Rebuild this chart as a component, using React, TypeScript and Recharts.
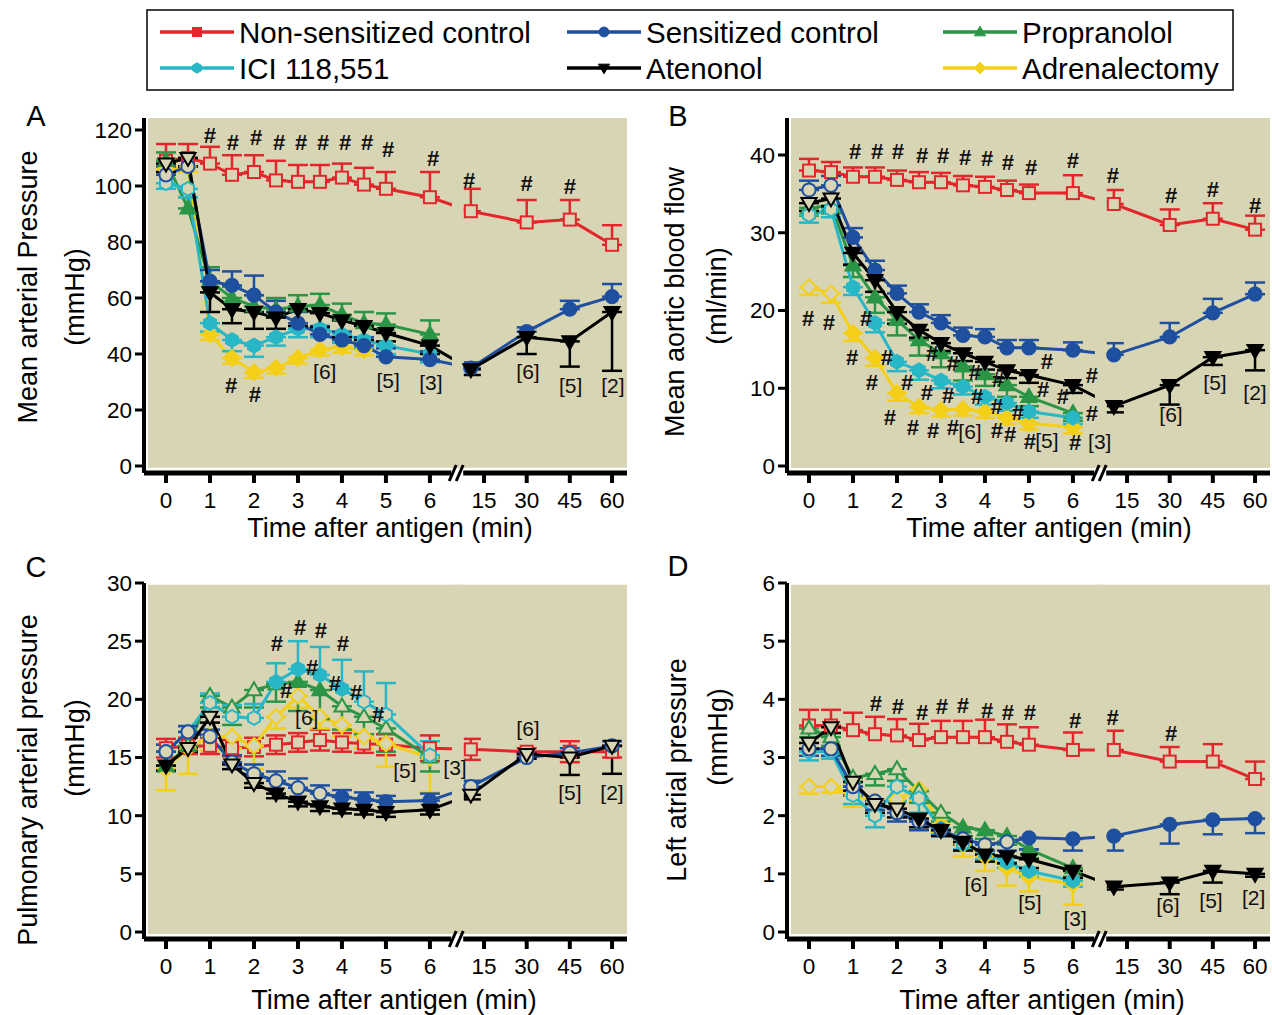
import React from 'react';
import { ComposedChart, Line, XAxis, YAxis, ErrorBar, ReferenceArea, Scatter } from 'recharts';

const FONT = "'Liberation Sans', Arial, Helvetica, sans-serif";
const BG = '#d8d5b5';

// ---------- time axis (broken) ----------
const TIMES = [0, 0.5, 1, 1.5, 2, 2.5, 3, 3.5, 4, 4.5, 5, 6, 15, 30, 45, 60];
const TICK_TIMES = [0, 1, 2, 3, 4, 5, 6, 15, 30, 45, 60];
const LATE_DATA_SLOT: Record<number, number> = { 15: 6.93, 30: 8.2, 45: 9.18, 60: 10.14 };
const LATE_TICK_SLOT: Record<number, number> = { 15: 7.23, 30: 8.2, 45: 9.18, 60: 10.14 };
const dataSlot = (t: number) => (t <= 6 ? t : LATE_DATA_SLOT[t]);
const tickSlot = (t: number) => (t <= 6 ? t : LATE_TICK_SLOT[t]);
const TICK_SLOTS = TICK_TIMES.map(tickSlot);
const X_MIN = -0.5;
const X_MAX = 10.48;
const BG_X0 = -0.41;
const GAP_X = [6.5, 6.77];
const BREAK_SLOT = 6.62;

// ---------- series ----------
const SERIES_META = [
  { key: 'red', name: 'Non-sensitized control', color: '#e2262c', shape: 'square' },
  { key: 'blue', name: 'Sensitized control', color: '#1f4f9f', shape: 'circle' },
  { key: 'green', name: 'Propranolol', color: '#2b9546', shape: 'triangle' },
  { key: 'cyan', name: 'ICI 118,551', color: '#27b7c7', shape: 'hexagon' },
  { key: 'black', name: 'Atenonol', color: '#000000', shape: 'triangleDown' },
  { key: 'yellow', name: 'Adrenalectomy', color: '#f4cf18', shape: 'diamond' },
];
const DRAW_ORDER = ['red', 'yellow', 'green', 'cyan', 'blue', 'black'];

// ---------- Panel A: mean arterial pressure (mmHg) ----------
const aRed = [109, 110, 108, 104, 105, 102, 101.5, 101.5, 103, 100.5, 99, 96, 91, 87, 88, 79];
const aRedErr = [6, 5, 6, 7, 6, 7, 6, 6, 5, 6, 6, 9, 8, 8, 7, 7];
const aBlue = [104, 107, 66, 64.5, 61, 55, 51, 47, 45, 43, 39, 38, 35, 48, 56, 60.5];
const aBlueErr = [3, 3, 4, 5, 7, 4, 4, 3, 3, 3, 3, 3, 2, 1.5, 3, 4.5];
const aGreen = [109, 92, 66, 60, 57, 56, 57, 57.5, 54, 51, 50.5, 47];
const aGreenErr = [3, 4, 5, 4, 4, 4, 4, 4, 4, 4, 4, 5];
const aCyan = [101, 99, 51, 45, 43, 46, 49, 49, 47, 45, 43, 40];
const aCyanErr = [2, 3, 3, 4, 4, 3, 3, 3, 3, 3, 3, 3];
const aBlack = [108, 110, 62, 56, 55, 53, 56, 54.6, 52, 50, 47.5, 43, 34.5, 46, 44.5, 55];
const aBlackErr = [3, 3, 7, 5, 6, 4, 6, 5, 6, 5, 3, 3, 2, 6, 9, 21];
const aYellow = [106, 107, 47, 38.6, 33.5, 35, 38.6, 41.5, 42.5, 41.5];
const aYellowErr = [2, 2, 2, 2, 2, 2, 2, 2, 2, 2];
const aFill = {
  red: 'oooooooooooooooo', blue: 'ooffffffffffffff', green: 'ffffffffffff',
  cyan: 'ooffffffffff', black: 'ooffffffffffffff', yellow: 'ooffffffff',
};
const aDir = { red: 'up', blue: 'up', green: 'up', cyan: 'down', black: 'down', yellow: 'down' };
const aMarks: [number, number, string][] = [
  [1.0, 118.2, '#'], [1.52, 115.7, '#'], [2.05, 117.5, '#'], [2.57, 115.7, '#'], [3.07, 115.4, '#'],
  [3.57, 115.4, '#'], [4.07, 115.7, '#'], [4.57, 115.4, '#'], [5.05, 112.9, '#'], [6.07, 110, '#'],
  [6.89, 102.1, '#'], [8.2, 101, '#'], [9.18, 100, '#'], [1.48, 28.9, '#'], [2.02, 25.4, '#'],
  [3.61, 33.6, '[6]'], [5.05, 30.7, '[5]'], [6.02, 30, '[3]'], [8.23, 33.9, '[6]'], [9.2, 28.6, '[5]'], [10.16, 28.6, '[2]'],
];

// ---------- Panel B: mean aortic blood flow (ml/min) ----------
const bRed = [38, 37.8, 37.2, 37.2, 36.8, 36.5, 36.5, 36.1, 35.9, 35.5, 35.1, 35.1, 33.7, 31, 31.8, 30.4];
const bRedErr = [1.5, 1.3, 1.2, 1.2, 1.2, 1.3, 1.2, 1.2, 1.3, 1.2, 1.1, 2.3, 1.8, 2, 2, 1.8];
const bBlue = [35.5, 36.1, 29.4, 25.2, 22.2, 19.8, 18.4, 16.8, 16.6, 15.2, 15.2, 14.9, 14.3, 16.6, 19.7, 22.1];
const bBlueErr = [1.2, 1.2, 1.2, 1.2, 1, 1, 1, 1, 1, 1, 1, 1, 1.5, 1.8, 1.8, 1.5];
const bGreen = [33.2, 33.5, 25.8, 21.7, 18.8, 16.2, 14.5, 12.8, 11.8, 10.4, 8.9, 6.8];
const bGreenErr = [1, 1, 1.5, 2, 2, 2, 1.8, 1.8, 1.5, 1.5, 1.2, 1];
const bCyan = [32.3, 33, 23, 18.4, 13.4, 12.3, 11, 10.2, 8.9, 8.1, 7, 6.2];
const bCyanErr = [1, 1, 1, 1.2, 1.2, 1.2, 1, 1, 1, 1, 0.8, 0.8];
const bBlack = [33.8, 34.4, 27.4, 23.9, 19.8, 17.5, 15.8, 14.5, 13.4, 12.3, 11.7, 10.4, 7.7, 10.4, 14, 14.9];
const bBlackErr = [1, 1, 1.5, 1.5, 1.5, 1, 1, 1, 1, 1, 1, 1, 0.8, 2.5, 1, 2.6];
const bYellow = [23, 22.2, 17.1, 13.9, 9.4, 7.6, 7.2, 7.3, 7, 6.2, 5.5, 5];
const bYellowErr = [1, 1.2, 1, 1, 1, 0.8, 0.8, 0.8, 0.8, 0.8, 0.8, 0.8];
const bFill = {
  red: 'oooooooooooooooo', blue: 'ooffffffffffffff', green: 'ooffffffffff',
  cyan: 'ooffffffffff', black: 'ooffffffffffffff', yellow: 'ooffffffffff',
};
const bDir = { red: 'up', blue: 'up', green: 'down', cyan: 'down', black: 'down', yellow: 'down' };
const bMarks: [number, number, string][] = [
  [1.05, 40.4, '#'], [1.55, 40.4, '#'], [2.02, 40.4, '#'], [2.57, 40, '#'], [3.05, 40, '#'], [3.55, 39.7, '#'],
  [4.05, 39.6, '#'], [4.52, 39.1, '#'], [5.05, 38.4, '#'], [6.0, 39.3, '#'], [6.91, 37.4, '#'], [8.23, 34.8, '#'],
  [9.18, 35.5, '#'], [10.14, 33.5, '#'],
  [-0.02, 19.0, '#'], [0.45, 18.4, '#'], [1.3, 19.0, '#'], [0.98, 13.9, '#'], [1.77, 14.0, '#'], [1.43, 10.8, '#'],
  [2.23, 10.8, '#'], [2.8, 14.5, '#'], [3.27, 13.2, '#'], [3.77, 12.0, '#'], [4.3, 11.1, '#'], [5.41, 13.4, '#'],
  [6.43, 11.7, '#'], [2.68, 9.4, '#'], [3.16, 9.1, '#'], [3.82, 8.9, '#'], [4.27, 7.6, '#'], [4.75, 6.9, '#'],
  [5.32, 9.8, '#'], [5.77, 8.9, '#'], [6.43, 6.8, '#'], [1.84, 6.2, '#'], [2.36, 4.9, '#'], [2.82, 4.6, '#'],
  [3.27, 5.0, '#'], [4.27, 4.6, '#'], [4.57, 4.0, '#'], [5.02, 3.1, '#'], [6.05, 3.0, '#'],
  [3.66, 4.4, '[6]'], [5.41, 3.3, '[5]'], [6.61, 3.1, '[3]'], [8.23, 6.6, '[6]'], [9.23, 10.8, '[5]'], [10.14, 9.5, '[2]'],
];

// ---------- Panel C: pulmonary arterial pressure (mmHg) ----------
const cRed = [15.8, 16, 16, 15.8, 15.9, 16.1, 16.3, 16.5, 16.3, 16.2, 16.1, 15.8, 15.7, 15.5, 15.5, 15.5];
const cRedErr = [0.8, 0.7, 0.7, 0.7, 0.8, 0.8, 0.8, 0.9, 0.8, 0.8, 0.9, 1.1, 0.9, 0.3, 0.9, 0.5];
const cBlue = [15.5, 17.2, 16.8, 14.6, 13.6, 13, 12.4, 11.9, 11.6, 11.4, 11.2, 11.3, 12.5, 15, 15.4, 16];
const cBlueErr = [0.6, 0.5, 0.6, 0.6, 0.8, 0.8, 0.8, 0.7, 0.6, 0.6, 0.5, 0.6, 0.5, 0.4, 0.4, 0.4];
const cGreen = [14.3, 16, 20.3, 19.3, 20.8, 21.3, 21.5, 20.8, 19.4, 18.5, 17.5, 15];
const cGreenErr = [0.5, 0.5, 1, 1.5, 1.5, 1.5, 2.5, 2.5, 2, 1.5, 2, 1.2];
const cCyan = [15.5, 17.2, 19.7, 18.5, 18.4, 21.5, 22.6, 22.1, 20.9, 19.8, 18.7, 15.2];
const cCyanErr = [0.6, 0.5, 0.8, 1, 1.2, 1.6, 2.4, 2.4, 2.5, 2.6, 2.7, 1.2];
const cBlack = [14.3, 15.8, 18.5, 14.4, 12.8, 11.9, 11.2, 10.8, 10.6, 10.5, 10.3, 10.5, 11.8, 15.3, 15, 16];
const cBlackErr = [0.4, 0.3, 0.5, 0.4, 0.4, 0.4, 0.4, 0.4, 0.4, 0.4, 0.4, 0.4, 0.4, 0.4, 1.5, 2.4];
const cYellow = [14, 15.8, 16.8, 16.8, 16, 18.5, 20.3, 18.5, 17.8, 16.8, 16.2, 15];
const cYellowErr = [1.8, 2.2, 1.2, 1, 2, 1, 1, 1, 1, 1, 2, 3];
const cFill = {
  red: 'oooooooooooooooo', blue: 'ooooooooffffoooo', green: 'foooooffoooo',
  cyan: 'oooooffffooo', black: 'foooofffffffoooo', yellow: 'oooooooooooo',
};
const cDir = { red: 'both', blue: 'up', green: 'down', cyan: 'up', black: 'down', yellow: 'down' };
const cMarks: [number, number, string][] = [
  [2.52, 24.8, '#'], [3.05, 26.2, '#'], [3.52, 25.9, '#'], [4.02, 24.8, '#'], [3.32, 22.7, '#'],
  [2.73, 20.8, '#'], [3.84, 21.4, '#'], [4.32, 20.6, '#'], [4.82, 18.7, '#'],
  [3.2, 18.4, '[6]'], [5.43, 13.9, '[5]'], [6.57, 14.1, '[3]'], [8.23, 17.5, '[6]'], [9.18, 12.0, '[5]'], [10.14, 12.0, '[2]'],
];

// ---------- Panel D: left atrial pressure (mmHg) ----------
const dRed = [3.55, 3.55, 3.47, 3.4, 3.38, 3.3, 3.35, 3.35, 3.35, 3.27, 3.22, 3.13, 3.13, 2.93, 2.93, 2.63];
const dRedErr = [0.27, 0.27, 0.3, 0.3, 0.28, 0.28, 0.28, 0.28, 0.3, 0.3, 0.3, 0.3, 0.33, 0.25, 0.3, 0.3];
const dBlue = [3.15, 3.15, 2.5, 2.25, 2.05, 1.9, 1.75, 1.6, 1.5, 1.55, 1.62, 1.6, 1.65, 1.85, 1.93, 1.95];
const dBlueErr = [0.12, 0.12, 0.15, 0.15, 0.15, 0.15, 0.1, 0.1, 0.1, 0.15, 0.2, 0.2, 0.25, 0.33, 0.25, 0.25];
const dGreen = [3.5, 3.35, 2.65, 2.72, 2.8, 2.42, 2.05, 1.8, 1.75, 1.65, 1.42, 1.1];
const dGreenErr = [0.15, 0.15, 0.15, 0.2, 0.2, 0.2, 0.15, 0.15, 0.15, 0.15, 0.15, 0.15];
const dCyan = [3.1, 3.1, 2.35, 2.0, 2.5, 2.3, 1.78, 1.52, 1.35, 1.2, 1.05, 0.88];
const dCyanErr = [0.15, 0.12, 0.15, 0.2, 0.25, 0.25, 0.1, 0.1, 0.1, 0.1, 0.1, 0.1];
const dBlack = [3.25, 3.52, 2.58, 2.2, 2.12, 1.95, 1.75, 1.55, 1.33, 1.3, 1.25, 1.05, 0.78, 0.85, 1.05, 1.0];
const dBlackErr = [0.1, 0.1, 0.15, 0.15, 0.15, 0.15, 0.1, 0.15, 0.12, 0.12, 0.15, 0.12, 0.05, 0.2, 0.2, 0.05];
const dYellow = [2.5, 2.5, 2.35, 2.25, 2.28, 2.45, 1.85, 1.5, 1.3, 1.1, 0.95, 0.82];
const dYellowErr = [0.12, 0.1, 0.2, 0.2, 0.15, 0.2, 0.15, 0.2, 0.25, 0.3, 0.25, 0.35];
const dFill = {
  red: 'oooooooooooooooo', blue: 'ooooooooooffffff', green: 'ooooooofffff',
  cyan: 'ooooooooofff', black: 'ooooofffffffffff', yellow: 'ooooooffffff',
};
const dDir = { red: 'up', blue: 'down', green: 'down', cyan: 'down', black: 'down', yellow: 'down' };
const dMarks: [number, number, string][] = [
  [1.52, 3.93, '#'], [2.02, 3.87, '#'], [2.57, 3.78, '#'], [3.02, 3.87, '#'], [3.5, 3.9, '#'], [4.05, 3.81, '#'],
  [4.52, 3.78, '#'], [5.02, 3.78, '#'], [6.05, 3.64, '#'], [6.9, 3.69, '#'], [8.23, 3.42, '#'],
  [3.8, 0.82, '[6]'], [5.02, 0.5, '[5]'], [6.05, 0.24, '[3]'], [8.16, 0.45, '[6]'], [9.14, 0.55, '[5]'], [10.11, 0.6, '[2]'],
];

// ---------- helpers ----------
function markerEl(shape: string, cx: number, cy: number, s: number, fill: string, stroke: string, sw: number) {
  const c = { fill, stroke, strokeWidth: sw };
  switch (shape) {
    case 'square':
      return <rect {...c} x={cx - s} y={cy - s} width={2 * s} height={2 * s} />;
    case 'circle':
      return <circle {...c} cx={cx} cy={cy} r={s * 1.1} />;
    case 'triangle':
      return <polygon {...c} points={`${cx},${cy - s * 1.3} ${cx + s * 1.25},${cy + s * 0.85} ${cx - s * 1.25},${cy + s * 0.85}`} />;
    case 'triangleDown':
      return <polygon {...c} points={`${cx - s * 1.25},${cy - s * 0.85} ${cx + s * 1.25},${cy - s * 0.85} ${cx},${cy + s * 1.3}`} />;
    case 'diamond':
      return <polygon {...c} points={`${cx},${cy - s * 1.3} ${cx + s * 1.3},${cy} ${cx},${cy + s * 1.3} ${cx - s * 1.3},${cy}`} />;
    case 'hexagon': {
      const r = s * 1.15;
      const pts = [0, 1, 2, 3, 4, 5].map((k) => {
        const a = (Math.PI / 3) * k - Math.PI / 2;
        return `${cx + r * Math.cos(a)},${cy + r * Math.sin(a)}`;
      });
      return <polygon {...c} points={pts.join(' ')} />;
    }
    default:
      return <circle {...c} cx={cx} cy={cy} r={s} />;
  }
}

function rowsFor(vals: number[], errs: number[], dir: string, fill: string) {
  return vals.map((v, i) => {
    const e = errs[i];
    const err = dir === 'up' ? [0, e] : dir === 'down' ? [e, 0] : [e, e];
    return { x: dataSlot(TIMES[i]), y: v, e: err, f: fill[i] === 'f' };
  });
}

function makePanel(
  vals: Record<string, number[]>, errs: Record<string, number[]>,
  dirs: Record<string, string>, fills: Record<string, string>
) {
  const out: Record<string, any[]> = {};
  Object.keys(vals).forEach((k) => { out[k] = rowsFor(vals[k], errs[k], dirs[k], fills[k]); });
  return out;
}

const PANELS = [
  {
    id: 'A', left: 0, top: 0, width: 640, mt: 118, mr: 13,
    yDomain: [-2.5, 124.29], yTicks: [0, 20, 40, 60, 80, 100, 120], bgLo: -0.6, bgHi: 124.29,
    rows: makePanel(
      { red: aRed, blue: aBlue, green: aGreen, cyan: aCyan, black: aBlack, yellow: aYellow },
      { red: aRedErr, blue: aBlueErr, green: aGreenErr, cyan: aCyanErr, black: aBlackErr, yellow: aYellowErr },
      aDir, aFill),
    marks: aMarks,
  },
  {
    id: 'B', left: 643, top: 0, width: 629, mt: 118, mr: 2,
    yDomain: [-0.9, 44.76], yTicks: [0, 10, 20, 30, 40], bgLo: -0.25, bgHi: 44.76,
    rows: makePanel(
      { red: bRed, blue: bBlue, green: bGreen, cyan: bCyan, black: bBlack, yellow: bYellow },
      { red: bRedErr, blue: bBlueErr, green: bGreenErr, cyan: bCyanErr, black: bBlackErr, yellow: bYellowErr },
      bDir, bFill),
    marks: bMarks,
  },
  {
    id: 'C', left: 0, top: 466, width: 640, mt: 117, mr: 13,
    yDomain: [-0.6, 30], yTicks: [0, 5, 10, 15, 20, 25, 30], bgLo: -0.17, bgHi: 29.85,
    rows: makePanel(
      { red: cRed, blue: cBlue, green: cGreen, cyan: cCyan, black: cBlack, yellow: cYellow },
      { red: cRedErr, blue: cBlueErr, green: cGreenErr, cyan: cCyanErr, black: cBlackErr, yellow: cYellowErr },
      cDir, cFill),
    marks: cMarks,
  },
  {
    id: 'D', left: 643, top: 466, width: 629, mt: 117, mr: 2,
    yDomain: [-0.12, 6], yTicks: [0, 1, 2, 3, 4, 5, 6], bgLo: -0.035, bgHi: 5.97,
    rows: makePanel(
      { red: dRed, blue: dBlue, green: dGreen, cyan: dCyan, black: dBlack, yellow: dYellow },
      { red: dRedErr, blue: dBlueErr, green: dGreenErr, cyan: dCyanErr, black: dBlackErr, yellow: dYellowErr },
      dDir, dFill),
    marks: dMarks,
  },
];

const CHART_H = 540;

function Panel({ p }: { p: any }) {
  const marks = p.marks.map((m: any) => ({ x: m[0], y: m[1], t: m[2] }));
  return (
    <div style={{ position: 'absolute', left: p.left, top: p.top }}>
      <ComposedChart width={p.width} height={CHART_H} margin={{ top: p.mt, right: p.mr, bottom: 27, left: 0 }}>
        <XAxis
          type="number" dataKey="x" domain={[X_MIN, X_MAX]} allowDataOverflow ticks={TICK_SLOTS} interval={0}
          tickFormatter={(_v: any, i: number) => String(TICK_TIMES[i])}
          axisLine={{ stroke: '#000', strokeWidth: 5 }} tickLine={{ stroke: '#000', strokeWidth: 4 }}
          tickSize={10} tickMargin={9} height={40}
          tick={{ fill: '#000', fontSize: 22.5, fontFamily: FONT }}
        />
        <YAxis
          type="number" domain={p.yDomain} allowDataOverflow ticks={p.yTicks} interval={0} width={144}
          axisLine={{ stroke: '#000', strokeWidth: 4 }} tickLine={{ stroke: '#000', strokeWidth: 3 }}
          tickSize={9} tickMargin={3}
          tick={{ fill: '#000', fontSize: 22.5, fontFamily: FONT }}
        />
        <ReferenceArea x1={BG_X0} x2={X_MAX} y1={p.bgLo} y2={p.bgHi} fill={BG} fillOpacity={1} stroke="none" ifOverflow="hidden" zIndex={-90} />
        {DRAW_ORDER.map((k) => {
          const meta = SERIES_META.find((m) => m.key === k)!;
          return (
            <Line
              key={k} data={p.rows[k]} dataKey="y" type="linear" stroke={meta.color} strokeWidth={3}
              isAnimationActive={false} activeDot={false} legendType="none"
              dot={(props: any) => {
                const { cx, cy, payload, index } = props;
                if (cx == null || cy == null) return <g key={`d${k}${index}`} />;
                return (
                  <g key={`d${k}${index}`}>
                    {markerEl(meta.shape, cx, cy, 6, payload.f ? meta.color : BG, meta.color, 2)}
                  </g>
                );
              }}
            >
              <ErrorBar dataKey="e" direction="y" width={10} strokeWidth={2.5} stroke={meta.color} />
            </Line>
          );
        })}
        <ReferenceArea x1={GAP_X[0]} x2={GAP_X[1]} y1={p.bgLo} y2={p.bgHi} fill={BG} fillOpacity={1} stroke="none" ifOverflow="hidden" zIndex={450} />
        <Scatter
          data={marks} dataKey="y" isAnimationActive={false} legendType="none" zIndex={700}
          shape={(sp: any) => (
            <text x={sp.cx} y={sp.cy} textAnchor="middle" dominantBaseline="central"
              fontSize={sp.payload.t === '#' ? 22 : 21} fontWeight={sp.payload.t === '#' ? 'bold' : 'normal'}
              fontFamily={FONT} fill="#111">
              {sp.payload.t}
            </text>
          )}
        />
      </ComposedChart>
    </div>
  );
}

// ---------- page-level text ----------
const LEGEND_COLS = [160, 567, 943];
const LEGEND_ROWS = [32, 68];
const LEGEND_ORDER = ['red', 'blue', 'green', 'cyan', 'black', 'yellow'];
const PANEL_LETTERS: [string, number, number][] = [['A', 36, 116], ['B', 678, 116], ['C', 36, 567], ['D', 678, 566]];
const X_TITLES: [number, number][] = [[390, 528], [1049, 528], [394, 1000], [1042, 1000]];
const Y_TITLES: [string, number, number][] = [
  ['Mean arterial Pressure', 28, 287], ['(mmHg)', 75, 297],
  ['Mean aortic blood flow', 675, 302], ['(ml/min)', 717, 296],
  ['Pulmonary arterial pressure', 28, 780], ['(mmHg)', 75, 748],
  ['Left atrial pressure', 677, 770], ['(mmHg)', 718, 737],
];

function slotToPx(slot: number, plotLeft: number) {
  return plotLeft + ((slot - X_MIN) / (X_MAX - X_MIN)) * 483;
}

function Overlay() {
  const breaks = [
    [slotToPx(BREAK_SLOT, 144), 473], [slotToPx(BREAK_SLOT, 787), 473],
    [slotToPx(BREAK_SLOT, 144), 939], [slotToPx(BREAK_SLOT, 787), 939],
  ];
  return (
    <svg width={1272} height={1015} style={{ position: 'absolute', left: 0, top: 0, pointerEvents: 'none' }} fontFamily={FONT}>
      <rect x={147} y={10} width={1086} height={80} fill="#fff" stroke="#000" strokeWidth={1.5} />
      {LEGEND_ORDER.map((k, i) => {
        const meta = SERIES_META.find((m) => m.key === k)!;
        const x = LEGEND_COLS[i % 3];
        const y = LEGEND_ROWS[Math.floor(i / 3)];
        return (
          <g key={k}>
            <line x1={x} x2={x + 74} y1={y} y2={y} stroke={meta.color} strokeWidth={3.5} />
            {markerEl(meta.shape, x + 37, y, 4.5, meta.color, meta.color, 1)}
            <text x={x + 79} y={y} dominantBaseline="central" fontSize={29.5} fill="#000">{meta.name}</text>
          </g>
        );
      })}
      {PANEL_LETTERS.map(([t, x, y]) => (
        <text key={t} x={x} y={y} textAnchor="middle" dominantBaseline="central" fontSize={29} fill="#000">{t}</text>
      ))}
      {X_TITLES.map(([x, y], i) => (
        <text key={`xt${i}`} x={x} y={y} textAnchor="middle" dominantBaseline="central" fontSize={27} fill="#000">
          Time after antigen (min)
        </text>
      ))}
      {Y_TITLES.map(([t, x, y], i) => (
        <text key={`yt${i}`} transform={`translate(${x},${y}) rotate(-90)`} textAnchor="middle" dominantBaseline="central" fontSize={27} fill="#000">
          {t}
        </text>
      ))}
      {breaks.map(([bx, by], i) => (
        <g key={`br${i}`}>
          <rect x={bx - 6} y={by - 4} width={12} height={8} fill="#fff" />
          <line x1={bx - 8} y1={by + 8} x2={bx - 1} y2={by - 8} stroke="#000" strokeWidth={3} />
          <line x1={bx - 1} y1={by + 8} x2={bx + 6} y2={by - 8} stroke="#000" strokeWidth={3} />
        </g>
      ))}
    </svg>
  );
}

export default function App() {
  return (
    <div style={{ position: 'absolute', left: 0, top: 0, width: 1272, height: 1015, background: '#fff', overflow: 'hidden', fontFamily: FONT }}>
      {PANELS.map((p) => <Panel key={p.id} p={p} />)}
      <Overlay />
    </div>
  );
}
